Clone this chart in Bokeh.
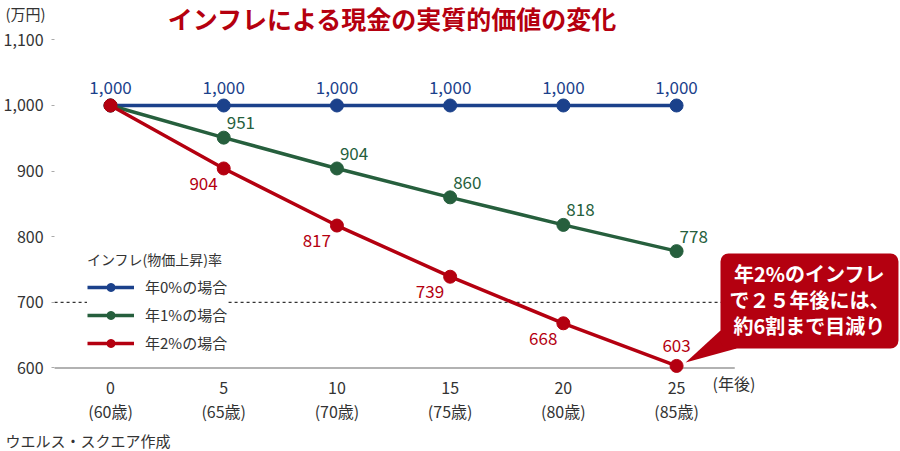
from bokeh.plotting import figure
from bokeh.models import (ColumnDataSource, LabelSet, Label, BoxAnnotation,
                          FixedTicker, NumeralTickFormatter)
from bokeh.core.properties import value
from bokeh.embed import file_html
from bokeh.resources import INLINE

# data
years = [0, 5, 10, 15, 20, 25]
ages = ["(60歳)", "(65歳)", "(70歳)", "(75歳)", "(80歳)", "(85歳)"]
rate0 = [1000, 1000, 1000, 1000, 1000, 1000]
rate1 = [1000, 951, 904, 860, 818, 778]
rate2 = [1000, 904, 817, 739, 668, 603]
names = ["年0%の場合", "年1%の場合", "年2%の場合"]
y_ticks = [600, 700, 800, 900, 1000, 1100]

FONT = "Noto Sans CJK JP"
BLUE = "#1b418b"
GREEN = "#265f3d"
RED = "#b40010"
TXT = "#333333"

# frame covers the whole canvas so that texts outside the axes are not clipped
p = figure(width=900, height=451, x_range=(-4.859, 34.89), y_range=(472.56, 1160.06),
           output_backend="svg", toolbar_location=None, min_border=0)
p.outline_line_color = None
p.xgrid.visible = False
p.ygrid.visible = False

# y axis
p.yaxis.fixed_location = -2.47
p.yaxis.ticker = FixedTicker(ticks=y_ticks)
p.yaxis.formatter = NumeralTickFormatter(format="0,0")
p.yaxis.axis_line_color = None
p.yaxis.major_tick_out = 3
p.yaxis.major_tick_in = 0
p.yaxis.major_tick_line_color = "#aaaaaa"
p.yaxis.minor_tick_line_color = None
p.yaxis.major_label_standoff = 8
p.yaxis.major_label_text_font = FONT
p.yaxis.major_label_text_font_size = "16px"
p.yaxis.major_label_text_color = TXT

# x axis with two-line labels
p.xaxis.fixed_location = 600
p.xaxis.ticker = FixedTicker(ticks=years)
p.xaxis.major_label_overrides = {y: f"{y}\n{a}" for y, a in zip(years, ages)}
p.xaxis.axis_line_color = None
p.xaxis.major_tick_line_color = None
p.xaxis.minor_tick_line_color = None
p.xaxis.major_label_standoff = 1
p.xaxis.major_label_text_font = FONT
p.xaxis.major_label_text_font_size = "16px"
p.xaxis.major_label_text_color = TXT
p.xaxis.major_label_text_line_height = 1.0

# baseline and dashed 700 line
p.segment(x0=[-2.47], y0=[600], x1=[27.57], y1=[600], line_color="#999999", line_width=1.5)
p.segment(x0=[-2.47], y0=[700], x1=[27.65], y1=[700], line_color="#000000",
          line_width=1, line_dash="3 3")

# callout
p.add_layout(BoxAnnotation(left=26.94, right=34.8, top=774.4, bottom=629.6,
                           fill_color=RED, fill_alpha=1, line_color=None,
                           border_radius=8))
p.patch([25.4, 26.94, 27.65], [608.2, 657, 629.6], fill_color=RED, line_color=None)

# series
for vals, color, name in zip([rate0, rate1, rate2], [BLUE, GREEN, RED], names):
    p.line(years, vals, line_width=3.5, color=color, legend_label=name)
    p.scatter(years, vals, size=13, color=color, legend_label=name)

# data labels
src0 = ColumnDataSource(dict(x=years, y=rate0, t=[f"{v:,}" for v in rate0]))
src1 = ColumnDataSource(dict(x=years[1:], y=rate1[1:], t=[f"{v:,}" for v in rate1[1:]]))
src2 = ColumnDataSource(dict(x=years[1:-1], y=rate2[1:-1], t=[f"{v:,}" for v in rate2[1:-1]]))
src2b = ColumnDataSource(dict(x=years[-1:], y=rate2[-1:], t=[f"{v:,}" for v in rate2[-1:]]))

common = dict(x="x", y="y", text="t", text_font=value(FONT), text_font_size="17px",
              text_baseline="middle")
p.add_layout(LabelSet(source=src0, text_align="center", y_offset=18, text_color=BLUE, **common))
p.add_layout(LabelSet(source=src1, text_align="left", x_offset=3, y_offset=15, text_color=GREEN, **common))
p.add_layout(LabelSet(source=src2, text_align="right", x_offset=-6, y_offset=-15, text_color=RED, **common))
p.add_layout(LabelSet(source=src2b, text_align="center", y_offset=20, text_color=RED, **common))

# texts around the chart
p.add_layout(Label(x=12.46, y=1134, text="インフレによる現金の実質的価値の変化",
                   text_align="center", text_baseline="middle", text_font=FONT,
                   text_font_size="25px", text_font_style="bold", text_color="#b5000f"))
p.add_layout(Label(x=-4.64, y=1139.6, text="(万円)", text_baseline="middle",
                   text_font=FONT, text_font_size="15px", text_color=TXT))
p.add_layout(Label(x=26.59, y=577.7, text="(年後)", text_baseline="middle",
                   text_font=FONT, text_font_size="16px", text_color=TXT))
p.add_layout(Label(x=-4.64, y=489.3, text="ウエルス・スクエア作成", text_baseline="middle",
                   text_font=FONT, text_font_size="15px", text_color=TXT))
p.add_layout(Label(x=30.87, y=704.3, text="年2%のインフレ\nで２５年後には、\n約6割まで目減り",
                   text_align="center", text_baseline="middle", text_font=FONT,
                   text_font_size="20px", text_font_style="bold", text_color="white",
                   text_line_height=0.9))

# legend
p.legend.location = (87, 98)
p.legend.title = "インフレ(物価上昇)率"
p.legend.title_text_font = FONT
p.legend.title_text_font_size = "14px"
p.legend.title_text_font_style = "normal"
p.legend.title_text_color = TXT
p.legend.title_standoff = 7
p.legend.label_text_font = FONT
p.legend.label_text_font_size = "15px"
p.legend.label_text_color = TXT
p.legend.glyph_width = 47
p.legend.glyph_height = 20
p.legend.label_height = 20
p.legend.label_standoff = 11
p.legend.spacing = 7
p.legend.padding = 8
p.legend.margin = 0
p.legend.border_line_color = None
p.legend.background_fill_alpha = 1

open("out.html", "w").write(file_html(p, INLINE))
